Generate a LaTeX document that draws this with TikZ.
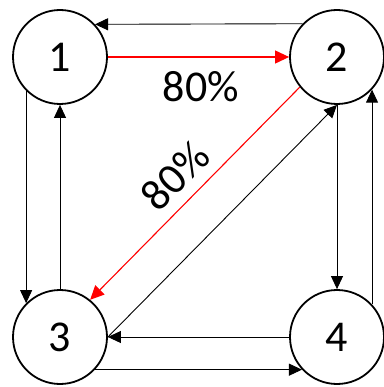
\documentclass[tikz,border=0pt]{standalone}
\usepackage{fontspec}
\setmainfont{Carlito}
\usetikzlibrary{arrows.meta}
\definecolor{redline}{RGB}{255,0,0}
\begin{document}
\begin{tikzpicture}[x=1pt,y=-1pt,
  state/.style={circle,draw,line width=1.8pt,minimum size=94pt,inner sep=0pt,font=\fontsize{44}{48}\selectfont},
  conn/.style={line width=0.9pt,-{Triangle[length=13pt,width=12pt]}},
  redconn/.style={color=redline,line width=1.1pt,-{Triangle[length=14pt,width=13pt]}},
  lbl/.style={font=\fontsize{44}{48}\selectfont,inner sep=0pt}]
\useasboundingbox (0,0) rectangle (383,387);
\node[state] (n1) at (60,57) {1};
\node[state] (n2) at (337,57) {2};
\node[state] (n3) at (60,337) {3};
\node[state] (n4) at (337,337) {4};
% top
\draw[conn] (n2.136.5) -- (n1.43.5);
\draw[redconn] (n1.east) -- (n2.west);
% left
\draw[conn] (n1.225) -- (n3.135);
\draw[conn] (n3.north) -- (n1.south);
% right
\draw[conn] (n2.south) -- (n4.north);
\draw[conn] (n4.43) -- (n2.-43);
% bottom
\draw[conn] (n4.west) -- (n3.east);
\draw[conn] (n3.-43.5) -- (n4.223.5);
% diagonals
\draw[redconn] (n2.219) -- (n3.51);
\draw[conn] (n3.east) -- (n2.south);
% labels
\node[lbl] (l1) at (201,87) {80\%};
\node[lbl,rotate=45] (l2) at (175,176) {80\%};
\end{tikzpicture}
\end{document}
